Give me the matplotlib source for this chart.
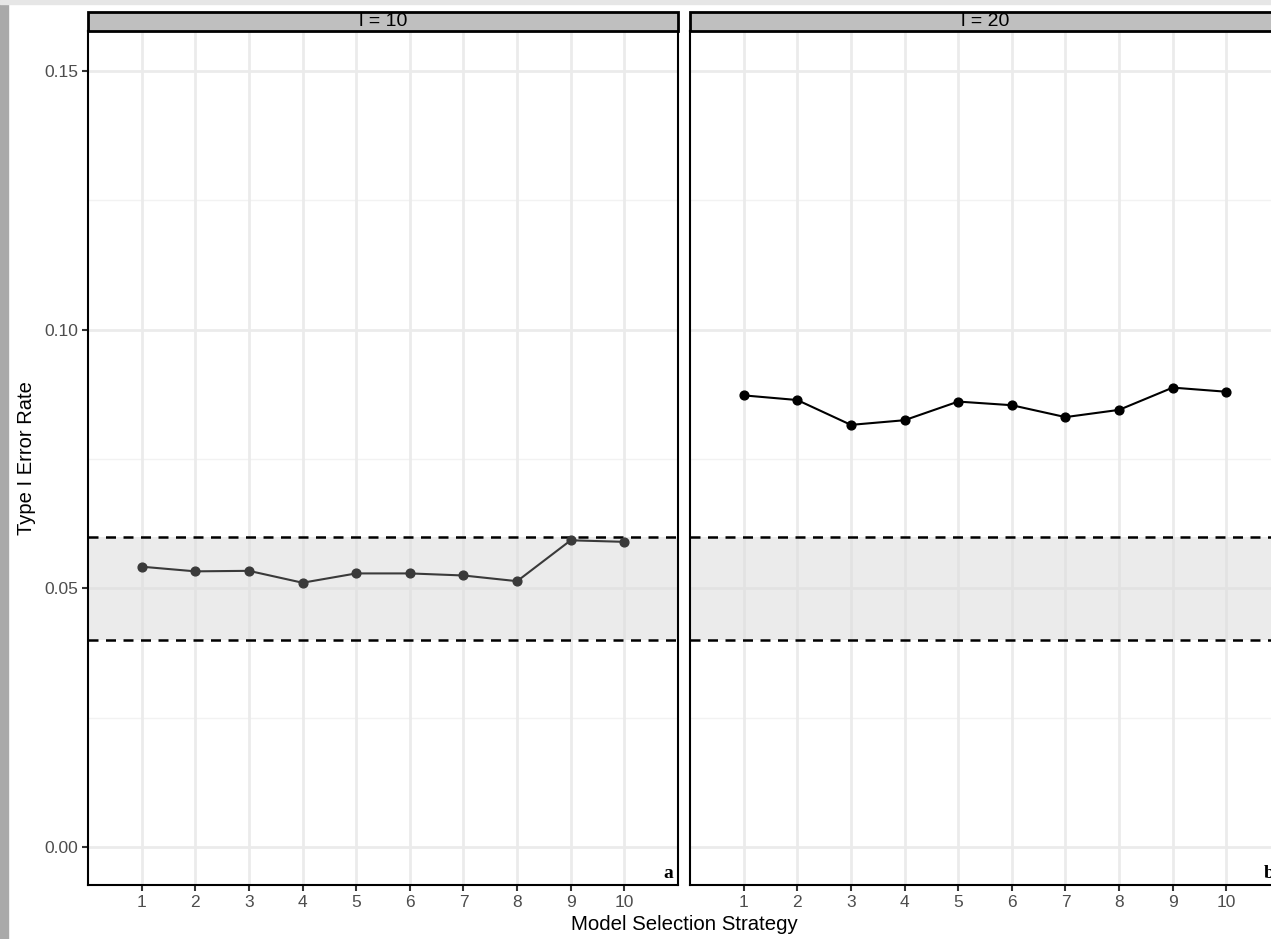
import numpy as np
import matplotlib.pyplot as plt
from matplotlib.patches import Rectangle

# ---------------------------------------------------------------------------
# Data
# ---------------------------------------------------------------------------
strategies = list(range(1, 11))
panel_titles = ["l = 10", "l = 20"]
panel_tags = ["a", "b"]
rate_l10 = [0.0542, 0.0533, 0.0534, 0.0511, 0.0529, 0.0529, 0.0525, 0.0514, 0.0593, 0.0590]
rate_l20 = [0.0873, 0.0864, 0.0816, 0.0825, 0.0861, 0.0854, 0.0831, 0.0845, 0.0888, 0.0880]
band_low, band_high = 0.04, 0.06
y_ticks = [0.00, 0.05, 0.10, 0.15]
y_minor = [0.025, 0.075, 0.125]

W, H = 1271, 939
plt.rcParams["font.family"] = ["Liberation Sans", "DejaVu Sans"]
fig = plt.figure(figsize=(W / 100, H / 100), dpi=100)

# screen edge on the left
fig.add_artist(Rectangle((0, 0), 8 / W, 1, transform=fig.transFigure,
                         color="#a9a9a9", zorder=0))
fig.add_artist(Rectangle((0, 1 - 4 / H), 1, 4 / H, transform=fig.transFigure,
                         color="#e6e6e6", zorder=0))

panel_w = 590 / W
bottom = 1 - 885 / H
height = (885 - 31) / H
lefts = [88 / W, 690 / W]
colors = ["#3a3a3a", "#000000"]
series = [rate_l10, rate_l20]

for i in range(2):
    ax = fig.add_axes([lefts[i], bottom, panel_w, height])
    ax.set_xlim(0, 11)
    ax.set_ylim(-0.0073, 0.1577)

    # grid
    for y in y_ticks:
        ax.axhline(y, color="#ebebeb", lw=2.0, zorder=0)
    for y in y_minor:
        ax.axhline(y, color="#f2f2f2", lw=1.0, zorder=0)
    for x in strategies:
        ax.axvline(x, color="#ebebeb", lw=2.0, zorder=0)

    ax.axhspan(band_low, band_high, color="#dcdcdc", alpha=0.55, lw=0, zorder=1)
    ax.axhline(band_high, color="black", lw=1.8, ls=(0, (4, 3)), zorder=2)
    ax.axhline(band_low, color="black", lw=1.8, ls=(0, (4, 3)), zorder=2)

    ax.plot(strategies, series[i], color=colors[i], lw=1.5, zorder=3)
    ax.scatter(strategies, series[i], color=colors[i], s=40, zorder=4)

    ax.set_xticks(strategies)
    ax.set_xticklabels([str(s) for s in strategies])
    ax.tick_params(axis="x", length=4, width=1.5, color="#333333",
                   labelcolor="#4d4d4d", labelsize=12.5, pad=3)
    if i == 0:
        ax.set_yticks(y_ticks)
        ax.set_yticklabels([f"{v:.2f}" for v in y_ticks])
        ax.tick_params(axis="y", length=4, width=1.5, color="#333333",
                       labelcolor="#4d4d4d", labelsize=12.5, pad=3)
    else:
        ax.set_yticks([])

    for sp in ax.spines.values():
        sp.set_color("black")
        sp.set_linewidth(1.5)

    # facet strip
    strip_h = 19 / 854
    ax.add_patch(Rectangle((0, 1), 1, strip_h, transform=ax.transAxes,
                           facecolor="#bfbfbf", edgecolor="black", lw=2.0,
                           clip_on=False, zorder=5))
    ax.text(0.5, 1 + strip_h / 2, panel_titles[i], transform=ax.transAxes,
            ha="center", va="center", fontsize=14, color="black", zorder=6)

    ax.text(0.9915, 0.008, panel_tags[i], transform=ax.transAxes, ha="right",
            va="baseline", fontsize=14, fontweight="bold",
            family="Liberation Serif", zorder=6)

fig.text(27 / W, 1 - 458 / H, "Type I Error Rate", rotation=90,
         ha="center", va="center", fontsize=14.5, color="black")
fig.text(684 / W, 1 - 924 / H, "Model Selection Strategy",
         ha="center", va="center", fontsize=14.7, color="black")

fig.savefig("out.png", dpi=100)
